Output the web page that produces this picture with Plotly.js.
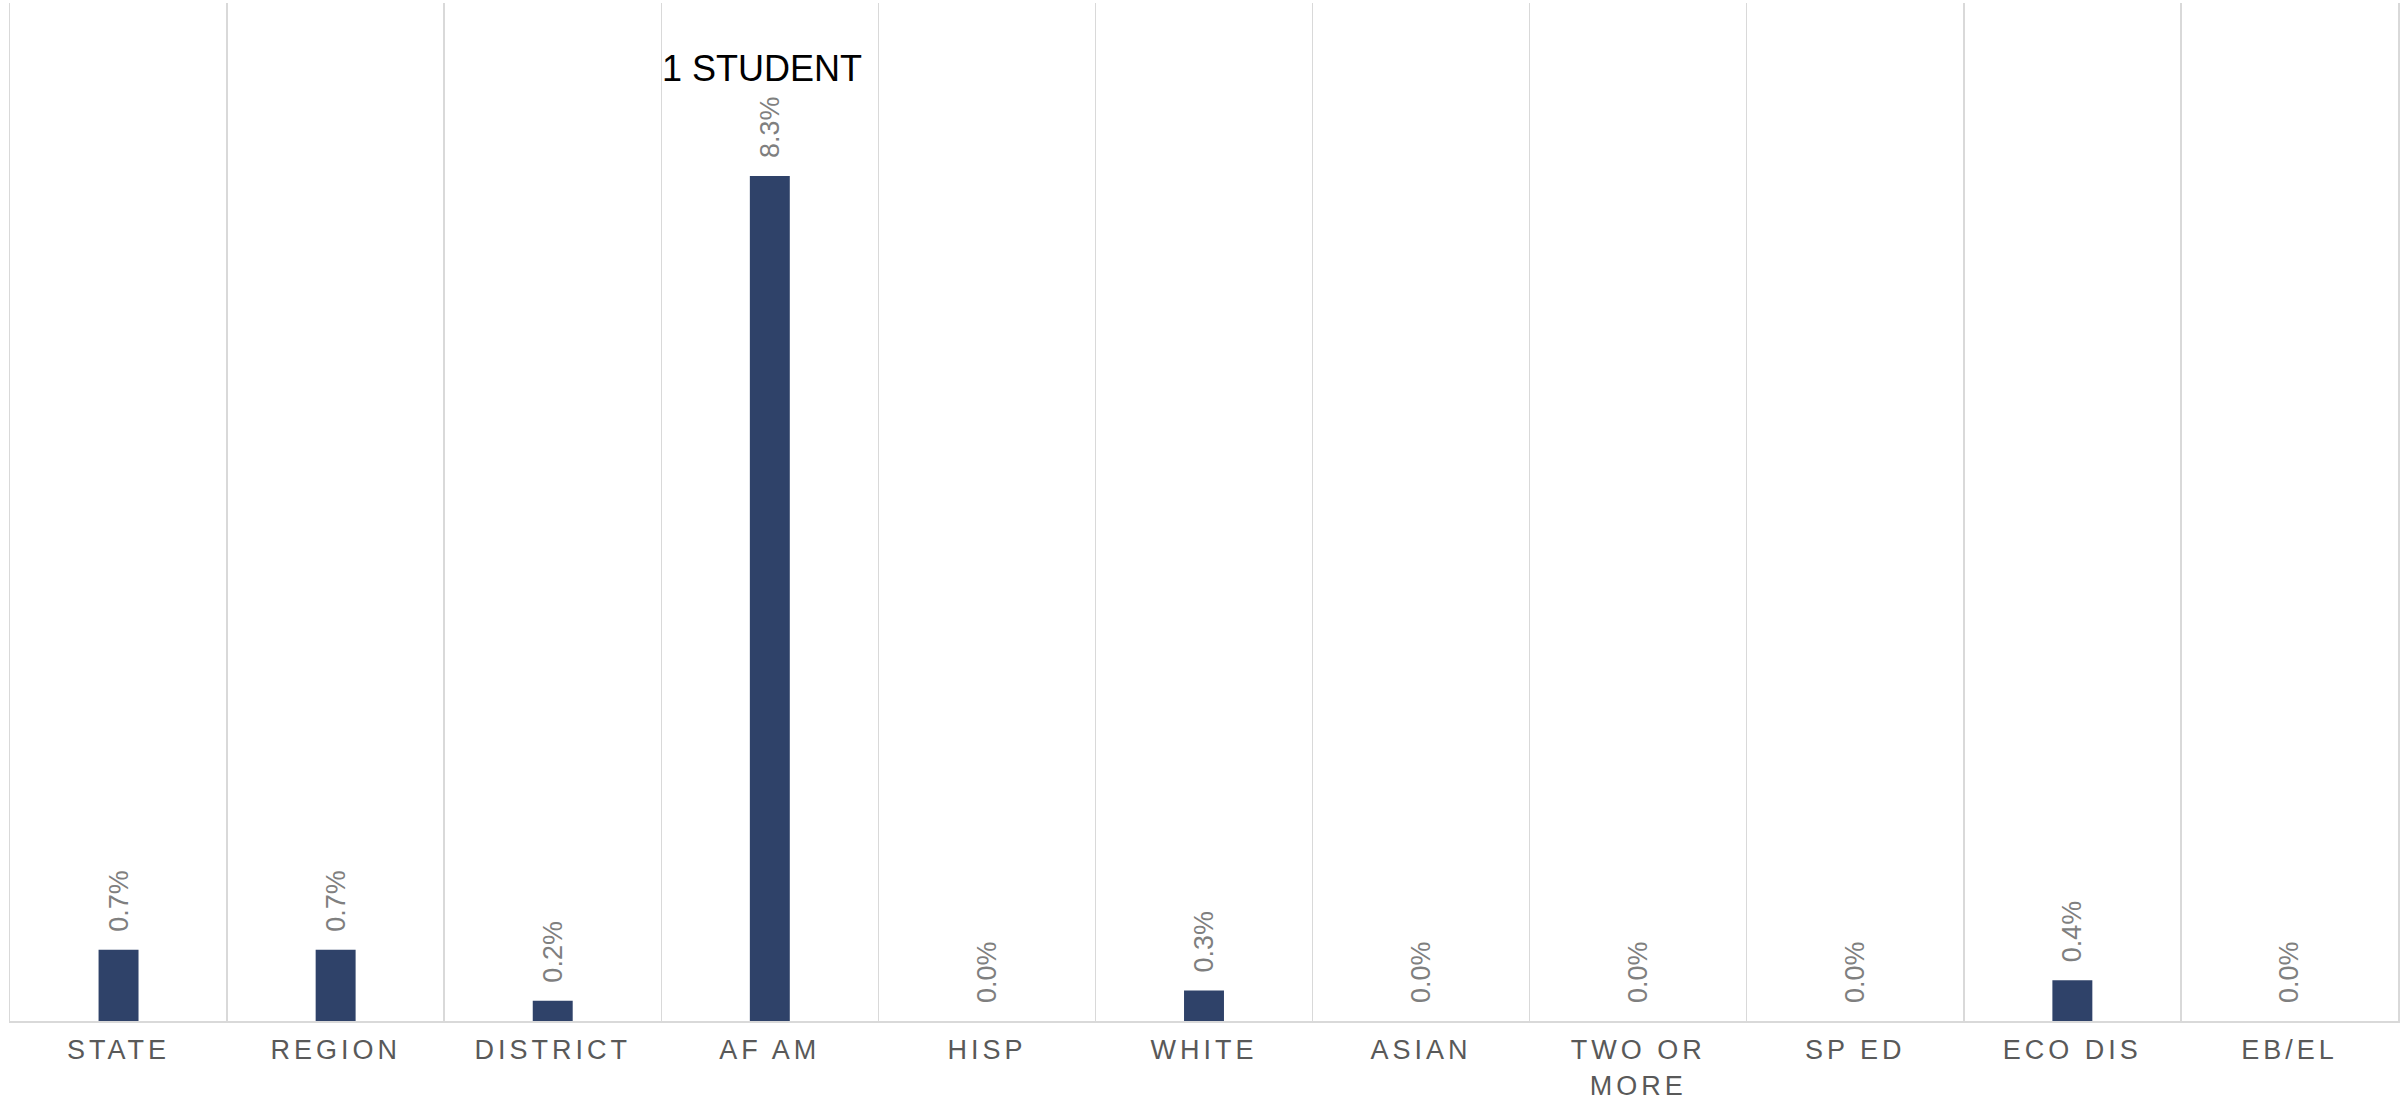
<!DOCTYPE html>
<html>
<head>
<meta charset="utf-8">
<script src="https://cdn.plot.ly/plotly-3.0.1.min.js"></script>
<style>
  html, body { margin: 0; padding: 0; background: #ffffff; }
  #chart { width: 2408px; height: 1101px; }
  .xtick text { letter-spacing: 4px; }
</style>
</head>
<body>
<div id="chart"></div>
<script>
// Data
const categories = ["STATE", "REGION", "DISTRICT", "AF AM", "HISP", "WHITE", "ASIAN", "TWO OR<br>MORE", "SP ED", "ECO DIS", "EB/EL"];
const percentValues = [0.7, 0.7, 0.2, 8.3, 0.0, 0.3, 0.0, 0.0, 0.0, 0.4, 0.0];
const noteText = "1 STUDENT";
const noteCategory = "AF AM";

const labels = percentValues.map(v => "\u00a0\u00a0" + v.toFixed(1) + "%");

const trace = {
  type: "bar",
  x: categories,
  y: percentValues,
  text: labels,
  texttemplate: "%{text}",
  textposition: "outside",
  textangle: -90,
  constraintext: "none",
  cliponaxis: false,
  textfont: { family: "Liberation Sans, Arial, sans-serif", size: 27, color: "#7f7f7f" },
  marker: { color: "#2f4269" },
  hoverinfo: "none"
};

const layout = {
  width: 2408,
  height: 1101,
  margin: { l: 10, r: 10, t: 3, b: 80, pad: 0 },
  paper_bgcolor: "#ffffff",
  plot_bgcolor: "#ffffff",
  showlegend: false,
  bargap: 0.816,
  font: { family: "Liberation Sans, Arial, sans-serif" },
  xaxis: {
    type: "category",
    tickson: "boundaries",
    showgrid: true,
    gridcolor: "#d9d9d9",
    gridwidth: 1.5,
    showline: true,
    linecolor: "#d9d9d9",
    linewidth: 2,
    ticks: "",
    tickfont: { family: "Liberation Sans, Arial, sans-serif", size: 27, color: "#595959" },
    ticklabelstandoff: 4,
    fixedrange: true
  },
  yaxis: {
    range: [0, 10],
    showgrid: false,
    zeroline: false,
    showticklabels: false,
    ticks: "",
    showline: true,
    mirror: true,
    linecolor: "#d9d9d9",
    linewidth: 1.5,
    fixedrange: true
  },
  annotations: [{
    text: noteText,
    xref: "x",
    yref: "y",
    x: noteCategory,
    y: 9.36,
    xshift: -8,
    showarrow: false,
    font: { family: "Liberation Sans, Arial, sans-serif", size: 36, color: "#000000" }
  }]
};

Plotly.newPlot("chart", [trace], layout, { displayModeBar: false, staticPlot: true });
</script>
</body>
</html>
